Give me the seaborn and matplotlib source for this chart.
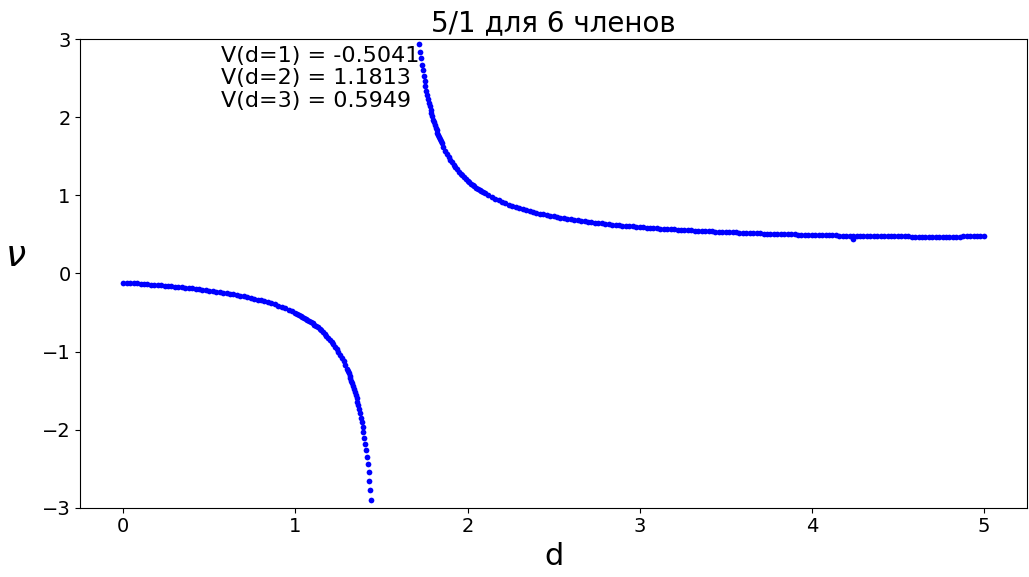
import pandas as pd
import matplotlib
matplotlib.use('Agg')
import matplotlib.pyplot as plt
import seaborn as sns

# lower branch (d < pole)
d_low = [0.00, 0.02, 0.04, 0.06, 0.08, 0.10, 0.12, 0.14, 0.16, 0.18,
         0.20, 0.22, 0.24, 0.26, 0.28, 0.30, 0.32, 0.34, 0.36, 0.38,
         0.40, 0.42, 0.44, 0.46, 0.48, 0.50, 0.52, 0.54, 0.56, 0.58,
         0.60, 0.62, 0.64, 0.66, 0.68, 0.70, 0.72, 0.74, 0.76, 0.78,
         0.80, 0.82, 0.84, 0.86, 0.88, 0.90, 0.92, 0.94, 0.96, 0.98,
         1.00, 1.01, 1.02, 1.03, 1.04, 1.05, 1.06, 1.07, 1.08, 1.09,
         1.10, 1.11, 1.12, 1.13, 1.14, 1.15, 1.16, 1.17, 1.18, 1.19,
         1.20, 1.21, 1.22, 1.23, 1.24, 1.25, 1.26, 1.27, 1.28, 1.29,
         1.300, 1.305, 1.310, 1.315, 1.320, 1.325, 1.330, 1.335, 1.340, 1.345,
         1.350, 1.355, 1.360, 1.365, 1.370, 1.375, 1.380, 1.385, 1.390, 1.395,
         1.400, 1.405, 1.410, 1.415, 1.420, 1.425, 1.430, 1.435, 1.440]
v_low = [-0.117, -0.120, -0.123, -0.125, -0.128, -0.132, -0.135, -0.138, -0.141, -0.145,
         -0.148, -0.152, -0.156, -0.160, -0.164, -0.168, -0.172, -0.177, -0.181, -0.186,
         -0.191, -0.196, -0.201, -0.207, -0.212, -0.218, -0.224, -0.231, -0.237, -0.244,
         -0.251, -0.259, -0.267, -0.275, -0.283, -0.292, -0.302, -0.311, -0.322, -0.333,
         -0.344, -0.356, -0.369, -0.382, -0.397, -0.412, -0.428, -0.445, -0.463, -0.483,
         -0.504, -0.515, -0.527, -0.539, -0.551, -0.564, -0.577, -0.592, -0.606, -0.621,
         -0.637, -0.654, -0.671, -0.690, -0.709, -0.729, -0.750, -0.772, -0.796, -0.821,
         -0.847, -0.875, -0.904, -0.935, -0.969, -1.004, -1.042, -1.083, -1.126, -1.173,
         -1.224, -1.251, -1.279, -1.308, -1.339, -1.371, -1.404, -1.439, -1.475, -1.514,
         -1.554, -1.596, -1.641, -1.688, -1.737, -1.790, -1.845, -1.904, -1.967, -2.033,
         -2.104, -2.180, -2.261, -2.348, -2.443, -2.544, -2.654, -2.774, -2.904]

# upper branch (d > pole)
d_up = [1.720, 1.725, 1.730, 1.735, 1.740, 1.745, 1.750, 1.755, 1.760, 1.765,
        1.770, 1.775, 1.780, 1.785, 1.790, 1.795, 1.800, 1.805, 1.810, 1.815,
        1.820, 1.825, 1.830, 1.835, 1.840, 1.845, 1.850,
        1.86, 1.87, 1.88, 1.89, 1.90, 1.91, 1.92, 1.93, 1.94, 1.95,
        1.96, 1.97, 1.98, 1.99, 2.00, 2.01, 2.02, 2.03, 2.04, 2.05,
        2.06, 2.07, 2.08, 2.09, 2.10,
        2.12, 2.14, 2.16, 2.18, 2.20, 2.22, 2.24, 2.26, 2.28, 2.30,
        2.32, 2.34, 2.36, 2.38, 2.40, 2.42, 2.44, 2.46, 2.48, 2.50,
        2.52, 2.54, 2.56, 2.58, 2.60, 2.62, 2.64, 2.66, 2.68, 2.70,
        2.72, 2.74, 2.76, 2.78, 2.80, 2.82, 2.84, 2.86, 2.88, 2.90,
        2.92, 2.94, 2.96, 2.98, 3.00, 3.02, 3.04, 3.06, 3.08, 3.10,
        3.12, 3.14, 3.16, 3.18, 3.20, 3.22, 3.24, 3.26, 3.28, 3.30,
        3.32, 3.34, 3.36, 3.38, 3.40, 3.42, 3.44, 3.46, 3.48, 3.50,
        3.52, 3.54, 3.56, 3.58, 3.60, 3.62, 3.64, 3.66, 3.68, 3.70,
        3.72, 3.74, 3.76, 3.78, 3.80, 3.82, 3.84, 3.86, 3.88, 3.90,
        3.92, 3.94, 3.96, 3.98, 4.00, 4.02, 4.04, 4.06, 4.08, 4.10,
        4.12, 4.14, 4.16, 4.18, 4.20, 4.22, 4.24, 4.24, 4.26, 4.28, 4.30,
        4.32, 4.34, 4.36, 4.38, 4.40, 4.42, 4.44, 4.46, 4.48, 4.50,
        4.52, 4.54, 4.56, 4.58, 4.60, 4.62, 4.64, 4.66, 4.68, 4.70,
        4.72, 4.74, 4.76, 4.78, 4.80, 4.82, 4.84, 4.86, 4.88, 4.90,
        4.92, 4.94, 4.96, 4.98, 5.00]
v_up = [2.934, 2.842, 2.756, 2.676, 2.601, 2.530, 2.464, 2.402, 2.343, 2.288,
        2.235, 2.186, 2.139, 2.094, 2.051, 2.011, 1.972, 1.935, 1.900, 1.866,
        1.834, 1.803, 1.774, 1.745, 1.718, 1.691, 1.666,
        1.618, 1.574, 1.532, 1.493, 1.457, 1.423, 1.391, 1.361, 1.332, 1.305,
        1.280, 1.256, 1.233, 1.209, 1.181, 1.166, 1.149, 1.131, 1.115, 1.099,
        1.083, 1.068, 1.053, 1.039, 1.026,
        1.000, 0.977, 0.955, 0.935, 0.916, 0.899, 0.882, 0.866, 0.851, 0.837,
        0.824, 0.811, 0.799, 0.788, 0.777, 0.767, 0.757, 0.748, 0.739, 0.730,
        0.722, 0.714, 0.707, 0.700, 0.693, 0.686, 0.680, 0.674, 0.668, 0.662,
        0.656, 0.651, 0.646, 0.641, 0.636, 0.632, 0.627, 0.623, 0.619, 0.614,
        0.610, 0.607, 0.603, 0.599, 0.595, 0.592, 0.589, 0.586, 0.582, 0.579,
        0.576, 0.573, 0.571, 0.568, 0.565, 0.562, 0.560, 0.557, 0.555, 0.553,
        0.550, 0.548, 0.546, 0.543, 0.541, 0.539, 0.537, 0.535, 0.533, 0.531,
        0.529, 0.528, 0.526, 0.524, 0.522, 0.520, 0.519, 0.517, 0.516, 0.514,
        0.512, 0.511, 0.509, 0.508, 0.507, 0.505, 0.504, 0.502, 0.501, 0.500,
        0.498, 0.497, 0.496, 0.495, 0.494, 0.493, 0.492, 0.491, 0.490, 0.489,
        0.488, 0.487, 0.486, 0.486, 0.485, 0.484, 0.484, 0.445, 0.483, 0.482, 0.482,
        0.481, 0.480, 0.480, 0.479, 0.478, 0.478, 0.477, 0.477, 0.476, 0.475,
        0.475, 0.474, 0.474, 0.473, 0.473, 0.472, 0.472, 0.472, 0.471, 0.471,
        0.471, 0.471, 0.470, 0.470, 0.470, 0.470, 0.470, 0.471, 0.474, 0.477,
        0.477, 0.478, 0.478, 0.478, 0.479]

labels = ['V(d=1) = -0.5041', 'V(d=2) = 1.1813', 'V(d=3) = 0.5949']
label_y = [2.79, 2.50, 2.21]

df = pd.DataFrame({'d': d_low + d_up, 'v': v_low + v_up})

fig, ax = plt.subplots(figsize=(10.29, 5.77), dpi=100)
fig.subplots_adjust(left=0.078, right=0.998, top=0.932, bottom=0.12)

sns.scatterplot(data=df, x='d', y='v', color='blue', s=17, linewidth=0, ax=ax)

ax.set_ylim(-3, 3)
ax.set_xlim(-0.25, 5.25)
ax.set_title('5/1 для 6 членов', fontsize=20)
ax.set_xlabel('d', fontsize=22)
ax.set_ylabel(r'$\nu$', fontsize=26, rotation=0)
ax.yaxis.set_label_coords(-0.068, 0.5)
ax.tick_params(labelsize=14)

for txt, yy in zip(labels, label_y):
    ax.text(0.57, yy, txt, fontsize=16, va='center', ha='left')

plt.savefig('out.png')
